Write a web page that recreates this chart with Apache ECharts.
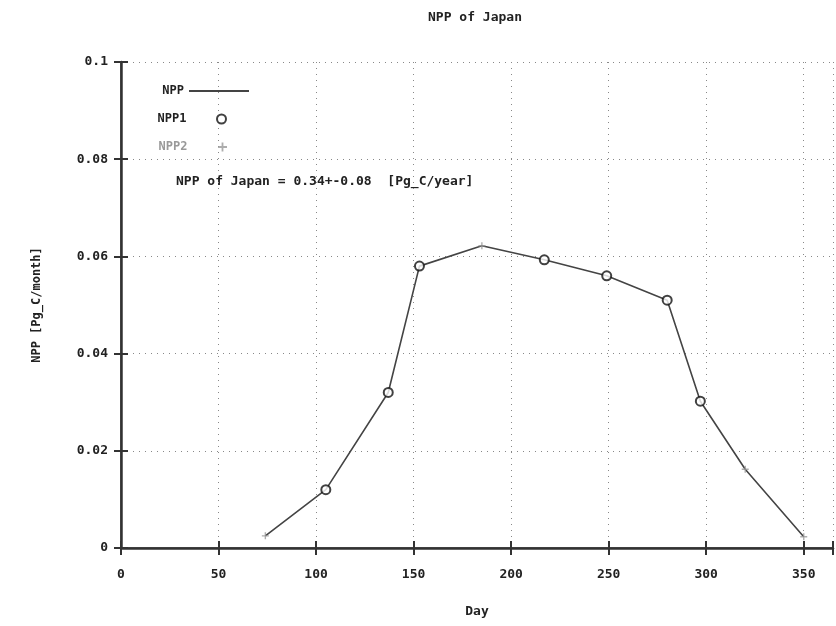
<!DOCTYPE html>
<html>
<head>
<meta charset="utf-8">
<script src="https://cdn.jsdelivr.net/npm/echarts@6/dist/echarts.min.js"></script>
<style>
  html, body { margin: 0; padding: 0; background: #fff; }
  #chart { width: 836px; height: 626px; }
</style>
</head>
<body>
<div id="chart"></div>
<script>
// NPP monthly values (Pg_C/month) against day of year
var nppDays = [74, 105, 137, 153, 185, 217, 249, 280, 297, 320, 350];
var nppValues = [0.0025, 0.012, 0.032, 0.058, 0.0622, 0.0593, 0.056, 0.051, 0.0302, 0.0162, 0.0023];

var npp1Days = [105, 137, 153, 217, 249, 280, 297];
var npp1Values = [0.012, 0.032, 0.058, 0.0593, 0.056, 0.051, 0.0302];

var npp2Days = [74, 185, 320, 350];
var npp2Values = [0.0025, 0.0622, 0.0162, 0.0023];

var xTicks = [0, 50, 100, 150, 200, 250, 300, 350];

function pairs(xs, ys) {
    return xs.map(function (x, i) { return [x, ys[i]]; });
}

var FONT = 'DejaVu Sans Mono';
var plusPath = 'path://M4,0 L6,0 L6,4 L10,4 L10,6 L6,6 L6,10 L4,10 L4,6 L0,6 L0,4 L4,4 Z';

var chart = echarts.init(document.getElementById('chart'));

var legendBase = {
    orient: 'vertical',
    align: 'right',
    itemWidth: 60,
    itemHeight: 9,
    selectedMode: false,
    textStyle: { fontFamily: FONT, fontSize: 12, fontWeight: 'bold', color: '#222' }
};

var option = {
    animation: false,
    backgroundColor: '#fff',
    title: {
        text: 'NPP of Japan',
        left: 470,
        top: 6,
        textAlign: 'center',
        textStyle: { fontFamily: FONT, fontSize: 13, fontWeight: 'bold', color: '#222' }
    },
    legend: [
        Object.assign({}, legendBase, { right: 581, top: 80, data: [{ name: 'NPP', itemStyle: { opacity: 0 } }] }),
        Object.assign({}, legendBase, { right: 604, top: 108, data: ['NPP1'] }),
        Object.assign({}, legendBase, { right: 604, top: 136, data: [{ name: 'NPP2', textStyle: { color: '#999' } }] })
    ],
    graphic: [{
        type: 'text',
        left: 176,
        top: 175,
        style: {
            text: 'NPP of Japan = 0.34+-0.08  [Pg_C/year]',
            font: 'bold 13px "DejaVu Sans Mono"',
            fill: '#222'
        }
    }],
    grid: { left: 121, top: 62, right: -4, bottom: 78 },
    xAxis: [{
        type: 'value',
        min: 0,
        max: 365,
        interval: 50,
        name: 'Day',
        nameLocation: 'middle',
        nameGap: 57,
        nameTextStyle: { fontFamily: FONT, fontSize: 13, fontWeight: 'bold', color: '#222' },
        axisLine: { show: true, lineStyle: { color: '#333', width: 2.5 } },
        axisTick: { show: true, inside: true, length: 7, lineStyle: { color: '#333', width: 2 } },
        axisLabel: {
            margin: 20,
            fontFamily: FONT, fontSize: 13, fontWeight: 'bold', color: '#222',
            formatter: function (v) { return xTicks.indexOf(v) >= 0 ? String(v) : ''; }
        },
        splitLine: { show: true, lineStyle: { color: '#888', type: [1, 5], width: 1 } }
    }, {
        type: 'value',
        position: 'top',
        min: 0,
        max: 365,
        interval: 50,
        axisLine: { show: true, lineStyle: { color: '#333', width: 1.5 } },
        axisTick: { show: true, inside: true, length: 7, lineStyle: { color: '#333', width: 2 } },
        axisLabel: { show: false },
        splitLine: { show: false }
    }],
    yAxis: [{
        type: 'value',
        min: 0,
        max: 0.1,
        interval: 0.02,
        name: 'NPP [Pg_C/month]',
        nameLocation: 'middle',
        nameGap: 78,
        nameTextStyle: { fontFamily: FONT, fontSize: 12, fontWeight: 'bold', color: '#222' },
        axisLine: { show: true, lineStyle: { color: '#333', width: 2.5 } },
        axisTick: { show: true, inside: true, length: 7, lineStyle: { color: '#333', width: 2 } },
        axisLabel: { margin: 13, fontFamily: FONT, fontSize: 13, fontWeight: 'bold', color: '#222' },
        splitLine: { show: true, lineStyle: { color: '#888', type: [1, 5], width: 1 } }
    }, {
        type: 'value',
        position: 'right',
        min: 0,
        max: 0.1,
        interval: 0.02,
        axisLine: { show: true, lineStyle: { color: '#333', width: 1.5 } },
        axisTick: { show: true, inside: true, length: 7, lineStyle: { color: '#333', width: 2 } },
        axisLabel: { show: false },
        splitLine: { show: false }
    }],
    series: [{
        name: 'NPP',
        type: 'line',
        data: pairs(nppDays, nppValues),
        showSymbol: false,
        symbol: 'none',
        lineStyle: { color: '#444', width: 1.6 },
        itemStyle: { color: '#444' },
        z: 2
    }, {
        name: 'NPP1',
        type: 'scatter',
        data: pairs(npp1Days, npp1Values),
        symbol: 'emptyCircle',
        symbolSize: 9,
        itemStyle: { color: '#111', borderWidth: 2 },
        z: 3
    }, {
        name: 'NPP2',
        type: 'scatter',
        data: pairs(npp2Days, npp2Values),
        symbol: plusPath,
        symbolSize: 7,
        itemStyle: { color: '#999' },
        z: 3
    }]
};

chart.setOption(option);
</script>
</body>
</html>
